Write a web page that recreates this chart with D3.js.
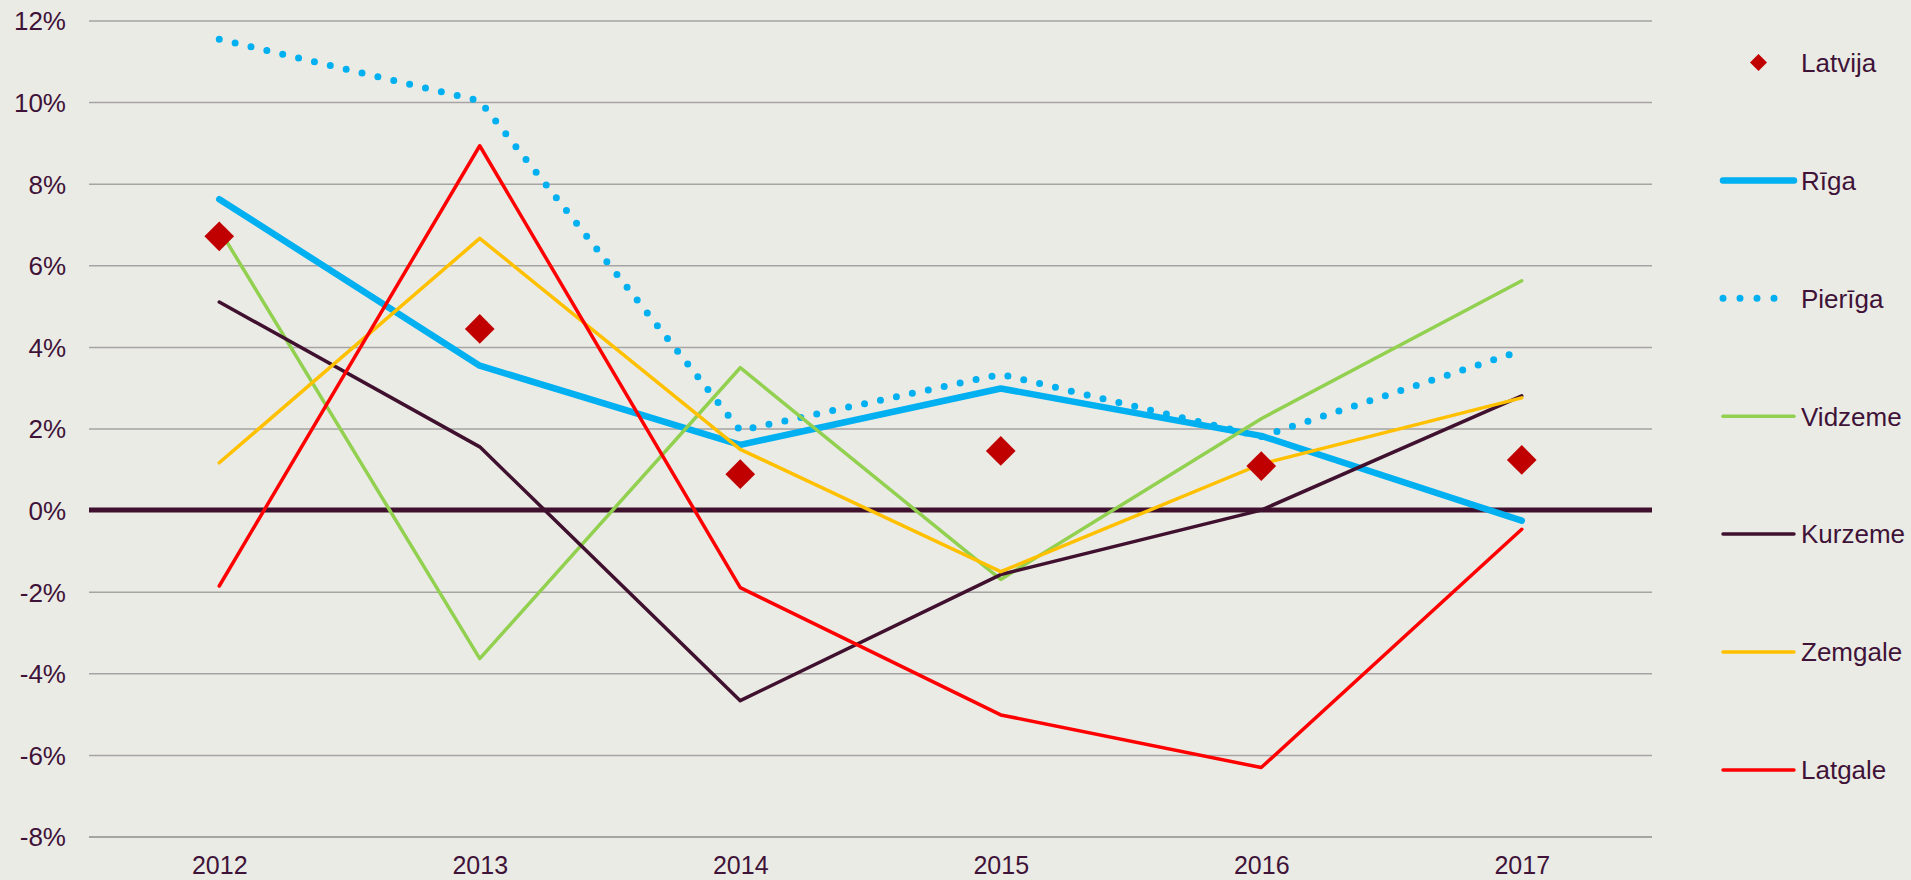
<!DOCTYPE html>
<html>
<head>
<meta charset="utf-8">
<script src="https://cdn.jsdelivr.net/npm/d3@7"></script>
<style>
  html, body { margin: 0; padding: 0; background: #EBEBE6; }
  svg { display: block; }
  text { font-family: "Liberation Sans", Arial, sans-serif; fill: #3F1338; }
</style>
</head>
<body>
<svg id="chart" width="1911" height="880"></svg>
<script>
const years = ["2012", "2013", "2014", "2015", "2016", "2017"];
const yTicks = [-8, -6, -4, -2, 0, 2, 4, 6, 8, 10, 12];

const latvija  = [6.71, 4.44, 0.88, 1.45, 1.08, 1.23];
const riga     = [7.62, 3.54, 1.60, 2.98, 1.82, -0.26];
const pieriga  = [11.54, 10.03, 1.95, 3.33, 1.80, 3.91];
const vidzeme  = [6.88, -3.64, 3.49, -1.70, 2.24, 5.62];
const kurzeme  = [5.10, 1.55, -4.67, -1.58, 0.0, 2.80];
const zemgale  = [1.16, 6.66, 1.49, -1.51, 1.13, 2.75];
const latgale  = [-1.86, 8.93, -1.90, -5.02, -6.31, -0.47];

const lineSeries = [
  { name: "Rīga",    values: riga,    color: "#00B0F0", width: 6.5, dotted: false },
  { name: "Pierīga", values: pieriga, color: "#00B0F0", width: 7, dotted: true },
  { name: "Vidzeme", values: vidzeme, color: "#92D050", width: 3.5, dotted: false },
  { name: "Kurzeme", values: kurzeme, color: "#40112F", width: 3.5, dotted: false },
  { name: "Zemgale", values: zemgale, color: "#FFC000", width: 3.5, dotted: false },
  { name: "Latgale", values: latgale, color: "#FF0000", width: 3.5, dotted: false }
];

(function () {
const svg = d3.select("#chart");
const pLeft = 89, pRight = 1652, pTop = 20.5, pBottom = 836.5;

const x = d3.scalePoint().domain(years).range([pLeft, pRight]).padding(0.5);
const y = d3.scaleLinear().domain([-8, 12]).range([pBottom, pTop]);

// Y axis with gridlines
const yAxis = svg.append("g")
  .attr("transform", `translate(${pLeft},0)`)
  .call(d3.axisLeft(y).tickValues(yTicks).tickSize(-(pRight - pLeft)).tickPadding(23)
        .tickFormat(d => d + "%"));
yAxis.select(".domain").remove();
yAxis.selectAll(".tick line")
  .attr("stroke", d => d === 0 ? "#40112F" : "#A6A3A3")
  .attr("stroke-width", d => d === 0 ? 0 : (d === -8 ? 2 : 1.5));
yAxis.selectAll(".tick text")
  .attr("font-size", 26).attr("dy", "0.36em").style("fill", "#3F1338");

// X axis labels
const xAxis = svg.append("g")
  .attr("transform", `translate(0,${pBottom})`)
  .call(d3.axisBottom(x).tickSize(0).tickPadding(20));
xAxis.select(".domain").remove();
xAxis.selectAll(".tick text").attr("font-size", 25).style("fill", "#3F1338");

// Zero line
svg.append("line")
  .attr("x1", pLeft).attr("x2", pRight)
  .attr("y1", y(0)).attr("y2", y(0))
  .attr("stroke", "#40112F").attr("stroke-width", 5);

const line = d3.line().x((d, i) => x(years[i])).y(d => y(d));

lineSeries.forEach(s => {
  const p = svg.append("path")
    .datum(s.values)
    .attr("d", line)
    .attr("fill", "none")
    .attr("stroke", s.color)
    .attr("stroke-width", s.width)
    .attr("stroke-linejoin", "round")
    .attr("stroke-linecap", "round");
  if (s.dotted) p.attr("stroke-dasharray", "0 16.3");
});

// Latvija diamonds
const diamond = d3.symbol().type(d3.symbolSquare).size(21 * 21);
svg.append("g").selectAll("path")
  .data(latvija)
  .join("path")
  .attr("d", diamond)
  .attr("transform", (d, i) => `translate(${x(years[i])},${y(d)}) rotate(45)`)
  .attr("fill", "#C00000");

// Legend
const legendItems = [{ name: "Latvija", marker: true }].concat(lineSeries);
const lg = svg.append("g");
legendItems.forEach((it, i) => {
  const cy = 62.5 + i * 117.9;
  if (it.marker) {
    lg.append("path")
      .attr("d", d3.symbol().type(d3.symbolSquare).size(12 * 12))
      .attr("transform", `translate(1758.5,${cy}) rotate(45)`)
      .attr("fill", "#C00000");
  } else {
    const l = lg.append("line")
      .attr("x1", 1723).attr("x2", it.dotted ? 1791 : 1794)
      .attr("y1", cy).attr("y2", cy)
      .attr("stroke", it.color).attr("stroke-width", it.width)
      .attr("stroke-linecap", "round");
    if (it.dotted) l.attr("stroke-dasharray", "0 17");
  }
  lg.append("text")
    .attr("x", 1801).attr("y", cy + 9.3)
    .attr("font-size", 26)
    .text(it.name);
});
})();
</script>
</body>
</html>
